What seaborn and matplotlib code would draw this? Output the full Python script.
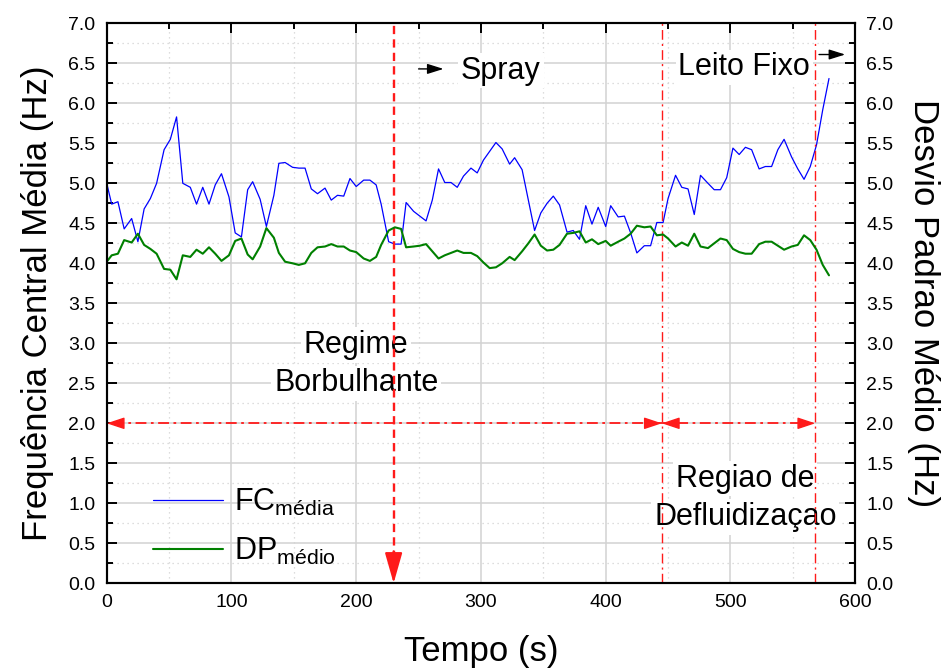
import matplotlib
matplotlib.use("Agg")
import matplotlib.pyplot as plt
import seaborn as sns
import pandas as pd
from matplotlib.ticker import MultipleLocator, FormatStrFormatter

# ---------------- data ----------------
time_s = [0, 4, 9, 14, 20, 25, 30, 35, 40, 46, 51, 56, 61, 67, 72, 77, 82, 87, 92, 98, 103, 108, 113,
          117, 123, 128, 134, 138, 143, 149, 154, 159, 164, 169, 175, 180, 185, 190, 195, 200, 206, 211, 216,
          220, 226, 231, 236, 240, 246, 251, 256, 261, 266, 271, 276, 281, 286, 292, 297, 302, 307, 312, 317,
          323, 327, 333, 338, 343, 348, 353, 358, 363, 369, 374, 379, 384, 389, 394, 400, 404, 410, 415, 420,
          425, 431, 436, 441, 446, 450, 456, 461, 466, 471, 476, 482, 487, 492, 497, 502, 507, 512, 517, 523,
          528, 533, 538, 543, 549, 554, 559, 564, 569, 574, 579]

fc_media = [5.00, 4.74, 4.77, 4.43, 4.56, 4.27, 4.68, 4.81, 5.00, 5.42, 5.55, 5.83, 5.00, 4.95, 4.74, 4.95,
            4.74, 4.98, 5.12, 4.83, 4.38, 4.33, 4.92,
            5.02, 4.80, 4.46, 4.85, 5.25, 5.26, 5.20, 5.19, 5.19, 4.93, 4.87, 4.94, 4.79, 4.85, 4.84, 5.06,
            4.96, 5.04, 5.04, 4.98,
            4.74, 4.27, 4.24, 4.24, 4.76, 4.65, 4.59, 4.53, 4.79, 5.18, 5.01, 5.01, 4.95, 5.09, 5.19, 5.13,
            5.29, 5.40, 5.51, 5.43, 5.24, 5.32, 5.17, 4.79, 4.41, 4.63, 4.75, 4.84, 4.73, 4.39, 4.41, 4.30,
            4.72, 4.49, 4.70, 4.46, 4.72, 4.58, 4.59, 4.38, 4.13, 4.22, 4.22, 4.51, 4.51, 4.81, 5.10, 4.95,
            4.93, 4.61, 5.10, 5.00, 4.92, 4.92, 5.07, 5.44, 5.36, 5.45, 5.42, 5.18, 5.21, 5.21, 5.42, 5.55,
            5.33, 5.18, 5.05, 5.21, 5.48, 5.92, 6.31]

dp_medio = [4.02, 4.10, 4.12, 4.29, 4.26, 4.37, 4.23, 4.18, 4.12, 3.93, 3.92, 3.80, 4.10, 4.08, 4.17, 4.12,
            4.20, 4.12, 4.03, 4.10, 4.28, 4.31, 4.11,
            4.05, 4.21, 4.44, 4.32, 4.13, 4.02, 4.00, 3.98, 4.00, 4.13, 4.20, 4.21, 4.24, 4.21, 4.21, 4.16,
            4.14, 4.06, 4.03, 4.08,
            4.23, 4.41, 4.45, 4.43, 4.20, 4.21, 4.22, 4.24, 4.15, 4.06, 4.10, 4.13, 4.16, 4.13, 4.13, 4.09,
            4.01, 3.94, 3.95, 4.00, 4.08, 4.04, 4.15, 4.25, 4.36, 4.22, 4.16, 4.17, 4.23, 4.37, 4.38, 4.40,
            4.26, 4.30, 4.24, 4.28, 4.22, 4.27, 4.31, 4.37, 4.47, 4.45, 4.46, 4.35, 4.36, 4.31, 4.21, 4.26,
            4.22, 4.37, 4.21, 4.19, 4.25, 4.31, 4.29, 4.18, 4.14, 4.12, 4.12, 4.24, 4.27, 4.27, 4.22, 4.17,
            4.21, 4.23, 4.35, 4.29, 4.17, 3.98, 3.85]

t_spray = 230
t_defl_start = 445
t_defl_end = 568

# ---------------- style ----------------
sns.set_style("white")
plt.rcParams["font.family"] = ["Liberation Sans", "DejaVu Sans"]
plt.rcParams["mathtext.fontset"] = "custom"
plt.rcParams["mathtext.rm"] = "Liberation Sans"
plt.rcParams["mathtext.it"] = "Liberation Sans"
plt.rcParams["mathtext.default"] = "regular"
for k in ("text.color", "axes.labelcolor", "xtick.color", "ytick.color", "axes.edgecolor"):
    plt.rcParams[k] = "black"

fig = plt.figure(figsize=(9.46, 6.70), dpi=100)
ax = fig.add_axes([0.1128, 0.1294, 0.7912, 0.8358])
ax2 = ax.twinx()

df = pd.DataFrame({"t": time_s, "fc": fc_media, "dp": dp_medio})
sns.lineplot(data=df, x="t", y="fc", ax=ax, color="#0000ff", lw=0.9, legend=False)
sns.lineplot(data=df, x="t", y="dp", ax=ax2, color="#008000", lw=1.5, legend=False)

for a in (ax, ax2):
    a.set_xlim(0, 600)
    a.set_ylim(0, 7)
    a.yaxis.set_major_locator(MultipleLocator(0.5))
    a.yaxis.set_minor_locator(MultipleLocator(0.25))
    a.yaxis.set_major_formatter(FormatStrFormatter("%.1f"))
    for s in a.spines.values():
        s.set_linewidth(1.5)
        s.set_color("black")

ax.xaxis.set_major_locator(MultipleLocator(100))
ax.xaxis.set_minor_locator(MultipleLocator(50))

ax.grid(which="major", color="#d2d2d2", lw=1.1, ls="-")
ax.grid(which="minor", color="#d2d2d2", lw=0.9, ls=(0, (1, 3)))
ax.set_axisbelow(True)

ax.tick_params(which="both", direction="in", top=True, right=False, labelsize=14, pad=8, width=1.4,
               color="black", labelcolor="black")
ax.tick_params(which="major", length=7)
ax.tick_params(which="minor", length=4)
ax2.tick_params(which="both", direction="in", right=True, labelsize=14, pad=8, width=1.4,
                color="black", labelcolor="black")
ax2.tick_params(which="major", length=7)
ax2.tick_params(which="minor", length=4)

ax.set_xlabel("Tempo (s)", fontsize=25, labelpad=17, color="black")
ax.set_ylabel("Frequência Central Média (Hz)", fontsize=25, labelpad=10, color="black")
ax2.set_ylabel("Desvio Padrao Médio (Hz)", fontsize=25, rotation=270, va="bottom", labelpad=10,
               color="black")

# ---------------- regime markers ----------------
red = "#ff1a1a"
ax.vlines(t_spray, 0.3, 7, colors=red, lw=1.7, linestyles=[(0, (3.5, 2.2))], zorder=6)
ax.annotate("", xy=(t_spray, 0), xytext=(t_spray, 0.4),
            arrowprops=dict(arrowstyle="-|>,head_length=0.95,head_width=0.27", mutation_scale=20,
                            color=red, lw=1.5, shrinkA=0, shrinkB=0), zorder=6)
for tv in (t_defl_start, t_defl_end):
    ax.vlines(tv, 0, 7, colors=red, lw=1.0, linestyles=[(0, (7, 3, 1.5, 3))], zorder=6)

ax.hlines(2.0, 5, t_defl_end - 5, colors=red, lw=1.3, linestyles=[(0, (6, 2.5, 1.5, 2.5))], zorder=6)
for tip, tail in ((0, 12), (t_defl_start, t_defl_start - 12), (t_defl_start, t_defl_start + 12),
                  (t_defl_end, t_defl_end - 12)):
    ax.annotate("", xy=(tip, 2.0), xytext=(tail, 2.0),
                arrowprops=dict(arrowstyle="-|>,head_length=0.9,head_width=0.3", mutation_scale=12,
                                color=red, lw=1.0, shrinkA=0, shrinkB=0), zorder=6)

# black arrows
for x0, x1, yv in ((250, 270, 6.43), (571, 592, 6.61)):
    ax.annotate("", xy=(x1, yv), xytext=(x0, yv),
                arrowprops=dict(arrowstyle="-|>,head_length=0.7,head_width=0.22", mutation_scale=14,
                                color="black", lw=1.0, shrinkA=0, shrinkB=0), zorder=6)

box = dict(fc="white", ec="none", pad=2)
txt = dict(fontsize=22, ha="center", va="baseline", zorder=4, bbox=box, color="black")
ax.text(316, 6.31, "Spray", **txt)
ax.text(511, 6.35, "Leito Fixo", **txt)
ax.text(200, 2.88, "Regime", **txt)
ax.text(200, 2.40, "Borbulhante", **txt)
ax.text(512, 1.21, "Regiao de", **txt)
ax.text(512, 0.73, "Defluidizaçao", **txt)

# ---------------- legend ----------------
h1 = ax.get_lines()[0]
h2 = ax2.get_lines()[0]
leg = ax2.legend([h1, h2], [r"FC$_{média}$", r"DP$_{médio}$"], loc="lower left",
                 bbox_to_anchor=(0.062, 0.03), frameon=False, fontsize=22, handlelength=2.3,
                 handletextpad=0.35, labelspacing=0.58, borderpad=0, borderaxespad=0)
for t in leg.get_texts():
    t.set_color("black")

fig.savefig("out.png", dpi=100)
